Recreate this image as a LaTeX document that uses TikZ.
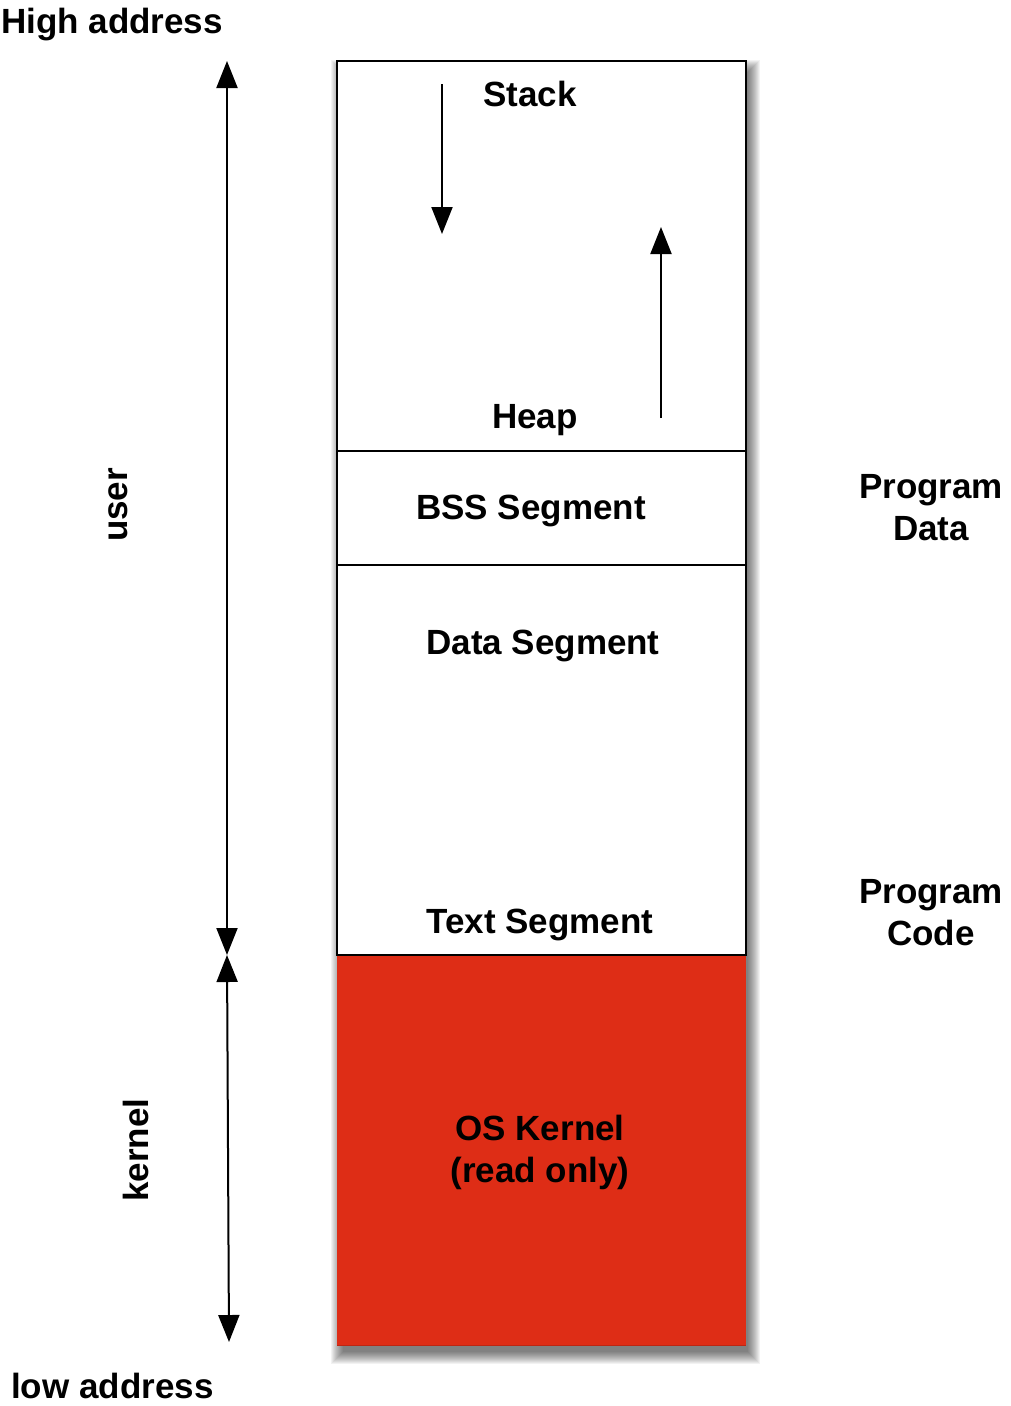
\documentclass[tikz,border=0pt]{standalone}
\usepackage{fontspec}
\setmainfont{Liberation Sans}
\usetikzlibrary{arrows.meta}
\definecolor{kernelred}{RGB}{222,45,22}
\tikzset{
  lbl/.style={font=\fontsize{35}{42}\selectfont\bfseries, inner sep=0pt, text=black},
  seg/.style={draw=black, line width=2pt, fill=white},
  arr/.style={line width=2pt, -{Triangle[length=27pt,width=21pt]}},
  darr/.style={line width=2pt, {Triangle[length=27pt,width=21pt]}-{Triangle[length=27pt,width=21pt]}}
}
\begin{document}
\begin{tikzpicture}[x=1pt,y=-1pt]
\useasboundingbox (0,0) rectangle (1010,1406);
% soft drop shadow
\foreach \i in {0,...,12}{
  \fill[black, opacity=0.05] ({337+4+2-\i},{61+9+2-\i}) rectangle ({746+4-2+\i},{1345+9-2+\i});
}
% segments
\draw[seg] (337,61) rectangle (746,451);
\draw[seg] (337,451) rectangle (746,565);
\draw[seg] (337,565) rectangle (746,955);
\fill[kernelred] (337,955) rectangle (746,1345);
\draw[black, line width=2pt] (337,955) -- (746,955);
\draw[kernelred!85!black, line width=1pt] (337,1345) -- (746,1345);
% coordinates
\coordinate (uTop) at (227,61);
\coordinate (uBot) at (227,955);
\coordinate (kTop) at (227,955);
\coordinate (kBot) at (229,1342);
\coordinate (sStart) at (442,84);
\coordinate (sEnd) at (442,234);
\coordinate (hStart) at (661,418);
\coordinate (hEnd) at (661,227);
% arrows
\draw[darr] (uTop) -- (uBot);
\draw[darr] (kTop) -- (kBot);
\draw[arr] (sStart) -- (sEnd);
\draw[arr] (hStart) -- (hEnd);
% labels
\node[lbl, anchor=base west] (high) at (1,33) {High address};
\node[lbl, anchor=base west] (low) at (11,1398) {low address};
\node[lbl, anchor=base, rotate=90] (user) at (127,505) {user};
\node[lbl, anchor=base, rotate=90] (kernel) at (148,1150) {kernel};
\node[lbl, anchor=base] (stack) at (530,106) {Stack};
\node[lbl, anchor=base] (heap) at (535,428) {Heap};
\node[lbl, anchor=base] (bss) at (531,519) {BSS Segment};
\node[lbl, anchor=base] (data) at (543,654) {Data Segment};
\node[lbl, anchor=base] (text) at (540,933) {Text Segment};
\node[lbl, align=center] (os) at (540,1152) {OS Kernel\\(read only)};
\node[lbl, align=center] (pdata) at (931,508) {Program\\Data};
\node[lbl, align=center] (pcode) at (931,913) {Program\\Code};
\end{tikzpicture}
\end{document}
